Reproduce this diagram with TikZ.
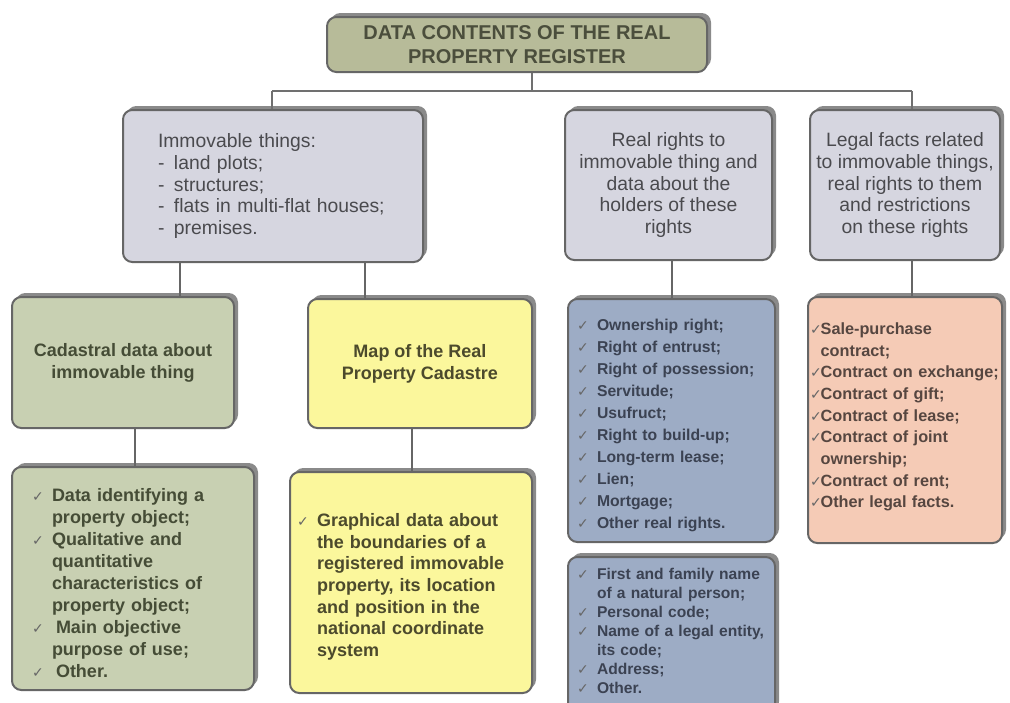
\documentclass[tikz,border=0pt]{standalone}
\usepackage{fontspec}
\setmainfont{Liberation Sans}
\newfontfamily\tickfont{DejaVu Sans}
\usetikzlibrary{shadows}

\definecolor{titlefill}{HTML}{B7BB99}
\definecolor{grayfill}{HTML}{D6D6E0}
\definecolor{sagefill}{HTML}{C8D0B2}
\definecolor{yellowfill}{HTML}{FBF79C}
\definecolor{bluefill}{HTML}{9DACC5}
\definecolor{peachfill}{HTML}{F5CBB6}
\definecolor{edgegray}{HTML}{666666}
\definecolor{shadowgray}{HTML}{8A8A8A}
\definecolor{linegray}{HTML}{707070}
\definecolor{tickgray}{HTML}{666666}
\definecolor{titletext}{HTML}{4B4E3C}
\definecolor{graytext}{HTML}{4A4A4E}
\definecolor{sagetext}{HTML}{454C36}
\definecolor{yellowtext}{HTML}{4C4A2C}
\definecolor{bluetext}{HTML}{3B4252}
\definecolor{peachtext}{HTML}{564640}

% check mark items with hanging lines
\newlength{\tickw}
\setlength{\tickw}{15pt}
\newcommand{\chk}{{\tickfont\fontsize{10.5}{10}\selectfont\color{tickgray}✓}}
\newcommand{\itm}[1]{\par\hangindent=\tickw\hangafter=1\noindent\hbox to \tickw{\chk\hss}#1\par}
\newcommand{\dsh}{\makebox[12pt][l]{-}}

\tikzset{
  box/.style = {draw = edgegray, line width = 1.5pt, rounded corners = 7pt,
    general shadow = {fill = shadowgray, shadow xshift = 3pt, shadow yshift = 3pt},
    inner sep = 0pt},
  bus/.style = {draw = linegray, line width = 1.3pt},
  link/.style = {draw = edgegray, line width = 2pt},
  upfont/.style = {font = {\fontsize{14.5}{16.25}\selectfont}, text = graytext},
  lowfont/.style = {font = {\fontsize{13.5}{16.5}\selectfont\bfseries}}
}

\begin{document}
\begin{tikzpicture}[x = 0.75pt, y = -0.75pt]
  \useasboundingbox (0, 0) rectangle (1010, 703);
  \clip (0, 0) rectangle (1010, 703);
  \fill[white] (0, 0) rectangle (1010, 703);

  \node[box, fill = titlefill, minimum width = 285pt, minimum height = 41.25pt,
        align = center, text = titletext,
        font = {\fontsize{15}{17.5}\selectfont\bfseries}] (title) at (517, 44.5)
        {DATA CONTENTS OF THE REAL\\PROPERTY REGISTER};

  % second row
  \node[box, fill = grayfill, minimum width = 225pt, minimum height = 114pt,
        text width = 172.5pt, align = left, upfont] (immov) at (273, 186)
        {Immovable things:\\\dsh land plots;\\\dsh structures;\\\dsh flats in multi-flat houses;\\\dsh premises.};
  \node[box, fill = grayfill, minimum width = 155.25pt, minimum height = 112.5pt,
        align = center, upfont] (rights) at (668.5, 185)
        {Real rights to\\immovable thing and\\data about the\\holders of these\\rights};
  \node[box, fill = grayfill, minimum width = 142.5pt, minimum height = 112.5pt,
        align = center, upfont] (facts) at (905, 185)
        {Legal facts related\\to immovable things,\\real rights to them\\and restrictions\\on these rights};

  % third row
  \node[box, fill = sagefill, minimum width = 166.5pt, minimum height = 98.25pt,
        align = center, lowfont, text = sagetext] (cad) at (123, 362.5)
        {Cadastral data about\\immovable thing};
  \node[box, fill = yellowfill, minimum width = 168pt, minimum height = 96.75pt,
        align = center, lowfont, text = yellowtext] (map) at (420, 363.5)
        {Map of the Real\\Property Cadastre};
  \node[box, fill = bluefill, minimum width = 155.25pt, minimum height = 182.25pt,
        text width = 141.75pt, align = left, text = bluetext,
        font = {\fontsize{11.8}{16.5}\selectfont\bfseries}] (rlist) at (671.5, 420.5)
        {\itm{Ownership right;}\itm{Right of entrust;}\itm{Right of possession;}
         \itm{Servitude;}\itm{Usufruct;}\itm{Right to build-up;}\itm{Long-term lease;}
         \itm{Lien;}\itm{Mortgage;}\itm{Other real rights.}};
  \node[box, fill = peachfill, minimum width = 145.5pt, minimum height = 184.5pt,
        text width = 142.5pt, align = left, text = peachtext,
        font = {\fontsize{12.2}{16.25}\selectfont\bfseries\setlength{\tickw}{8pt}}] (flist) at (905, 420)
        {\itm{Sale-purchase\newline contract;}\itm{Contract on exchange;}\itm{Contract of gift;}
         \itm{Contract of lease;}\itm{Contract of joint\newline ownership;}\itm{Contract of rent;}
         \itm{Other legal facts.}\vspace{12pt}};

  % bottom row
  \node[box, fill = sagefill, minimum width = 181.5pt, minimum height = 167.25pt,
        text width = 151.5pt, align = left, lowfont, text = sagetext] (cadlist) at (133, 578.5)
        {\itm{Data identifying a\newline property object;}
         \itm{Qualitative and\newline quantitative\newline characteristics of\newline property object;}
         \itm{\hspace{3pt}Main objective\newline purpose of use;}\itm{\hspace{3pt}Other.}};
  \node[box, fill = yellowfill, minimum width = 181.5pt, minimum height = 165.75pt,
        text width = 171pt, align = left, text = yellowtext,
        font = {\fontsize{13.5}{16.25}\selectfont\bfseries}] (maplist) at (411, 582.5)
        {\itm{Graphical data about\newline the boundaries of a\newline registered immovable\newline
         property, its location\newline and position in the\newline national coordinate\newline system}};
  \node[box, fill = bluefill, minimum width = 155.25pt, minimum height = 118.5pt,
        text width = 141.75pt, align = left, text = bluetext,
        font = {\fontsize{11.7}{14.2}\selectfont\bfseries}] (holders) at (671.5, 636)
        {\itm{First and family name\newline of a natural person;}\itm{Personal code;}
         \itm{Name of a legal entity,\newline its code;}\itm{Address;}\itm{Other.}\vspace{13pt}};

  % connectors
  \coordinate (busL) at (272, 91);
  \coordinate (busT) at (532, 91);
  \coordinate (busR) at (912, 91);
  \draw[bus] (title.south -| busT) -- (busT);
  \draw[bus] (busL) -- (busR);
  \draw[bus] (busL) -- (immov.north -| busL);
  \draw[bus] (rights.north -| 672, 0) -- (rights.north -| 672, 91);
  \draw[bus] (busR) -- (facts.north -| busR);

  \draw[link] (immov.south -| 180, 0) -- (cad.north -| 180, 0);
  \draw[link] (immov.south -| 365, 0) -- (map.north -| 365, 0);
  \draw[link] (cad.south -| 135, 0) -- (cadlist.north -| 135, 0);
  \draw[link] (map.south -| 412, 0) -- (maplist.north -| 412, 0);
  \draw[link] (rights.south -| 672, 0) -- (rlist.north -| 672, 0);
  \draw[link] (facts.south -| 912, 0) -- (flist.north -| 912, 0);
\end{tikzpicture}
\end{document}
